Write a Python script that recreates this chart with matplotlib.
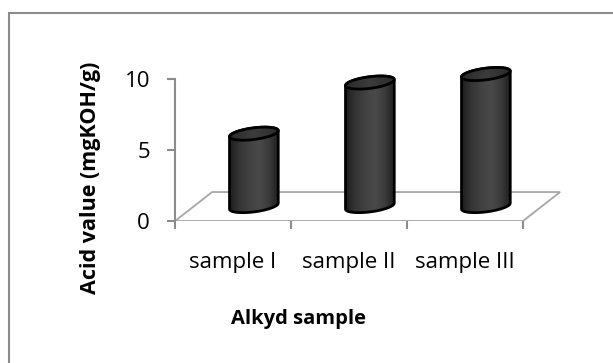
import numpy as np
import matplotlib
matplotlib.use("Agg")
import matplotlib.pyplot as plt
from matplotlib.patches import Polygon, Rectangle
from matplotlib.colors import LinearSegmentedColormap

plt.rcParams['font.family'] = ['Open Sans', 'DejaVu Sans']

# data
samples = ["sample I", "sample II", "sample III"]
acid_value = [5.1, 8.7, 9.3]
yticks = [0, 5, 10]

# 3d look
depth_x, depth_y = 0.32, 2.04      # back wall offset (category units, value units)
mid_x, mid_y = 0.18, 1.05          # cylinders stand halfway into the floor
rad_x, rad_y, tilt = 0.21, 0.41, 0.21
grey = "#8c8c8c"

body_cmap = LinearSegmentedColormap.from_list(
    "body", ["#1e1e1e", "#353535", "#424242", "#4a4a4a", "#3a3a3a", "#1e1e1e"])
top_cmap = LinearSegmentedColormap.from_list(
    "top", ["#2a2a2a", "#3c3c3c", "#2a2a2a"])

fig = plt.figure(figsize=(6.13, 3.63), dpi=100)
ax = fig.add_axes([175 / 613, 142 / 363, 394.4 / 613, 170.4 / 363])

# floor
floor = Polygon([(-0.5, 0), (len(samples) - 0.5, 0),
                 (len(samples) - 0.5 + depth_x, depth_y), (-0.5 + depth_x, depth_y)],
                closed=True, fill=False, ec="#a6a6a6", lw=1.3, zorder=1)
ax.add_patch(floor)


def cylinder(cx, base, h):
    t = np.linspace(0, 2 * np.pi, 240)
    top = base + h
    # silhouette: bottom front arc, then top back arc
    tb = np.linspace(np.pi, 2 * np.pi, 120)
    tt = np.linspace(0, np.pi, 120)
    xs = np.concatenate([cx + rad_x * np.cos(tb), cx + rad_x * np.cos(tt)])
    ys = np.concatenate([base + rad_y * np.sin(tb) + tilt * np.cos(tb),
                         top + rad_y * np.sin(tt) + tilt * np.cos(tt)])
    body = Polygon(np.column_stack([xs, ys]), closed=True, fc="none",
                   ec="black", lw=2.0, zorder=3)
    ax.add_patch(body)
    grad = np.linspace(0, 1, 256)[None, :]
    im = ax.imshow(grad, cmap=body_cmap, aspect="auto", zorder=2,
                   extent=[cx - rad_x, cx + rad_x, base - 1, top + 1])
    im.set_clip_path(body)

    lid = Polygon(np.column_stack([cx + rad_x * np.cos(t),
                                   top + rad_y * np.sin(t) + tilt * np.cos(t)]),
                  closed=True, fc="none", ec="black", lw=2.0, zorder=5)
    ax.add_patch(lid)
    im2 = ax.imshow(grad, cmap=top_cmap, aspect="auto", zorder=4,
                    extent=[cx - rad_x, cx + rad_x, top - 1, top + 1])
    im2.set_clip_path(lid)


for i, v in enumerate(acid_value):
    cylinder(i + mid_x, mid_y, v)

ax.set_xlim(-0.5, len(samples) - 0.5 + 0.4)
ax.set_ylim(0, 12)

# axes
for side in ["top", "right", "bottom"]:
    ax.spines[side].set_visible(False)
ax.spines["left"].set_color(grey)
ax.spines["left"].set_linewidth(1.5)
ax.spines["left"].set_bounds(0, 10)

ax.set_yticks(yticks)
ax.tick_params(axis="y", direction="out", length=6, width=1.5, color=grey,
               pad=12, labelsize=16, labelcolor="black")
ax.set_xticks(range(len(samples)))
ax.set_xticklabels(samples)
ax.set_xticks(np.arange(len(samples) + 1) - 0.5, minor=True)
ax.tick_params(axis="x", which="major", length=0, pad=22, labelsize=16)
ax.tick_params(axis="x", which="minor", direction="out", length=6, width=1.5,
               color=grey)

ax.set_ylabel("Acid value (mgKOH/g)", fontsize=15.5, fontweight="bold")
ax.yaxis.label.set_va("center")
ax.yaxis.set_label_coords(-0.2155, 0.252)
ax.set_xlabel("Alkyd sample", fontsize=14.5, fontweight="bold")
ax.xaxis.label.set_va("center")
ax.xaxis.set_label_coords(0.312, -0.575)

# chart border
fig.add_artist(Rectangle((9 / 613, -0.1), 1.2, 1.1 - 13 / 363,
                         transform=fig.transFigure, fill=False, ec=grey, lw=1.5))

fig.savefig("out.png", dpi=100)
